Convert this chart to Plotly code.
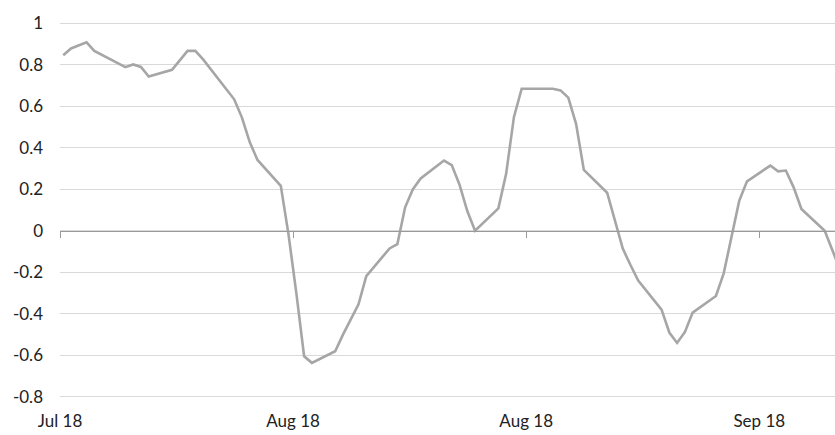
#!/usr/bin/env python3

import pandas as pd
import plotly.graph_objects as go

# business days (only where the line bends)
dates = ['2018-07-02', '2018-07-03', '2018-07-05', '2018-07-06', '2018-07-10',
         '2018-07-11', '2018-07-12', '2018-07-13', '2018-07-16', '2018-07-18',
         '2018-07-19', '2018-07-20', '2018-07-24', '2018-07-25', '2018-07-26',
         '2018-07-27', '2018-07-30', '2018-07-31', '2018-08-01', '2018-08-02',
         '2018-08-03', '2018-08-06', '2018-08-07', '2018-08-08', '2018-08-09',
         '2018-08-10', '2018-08-13', '2018-08-14', '2018-08-15', '2018-08-16',
         '2018-08-17', '2018-08-20', '2018-08-21', '2018-08-22', '2018-08-23',
         '2018-08-24', '2018-08-27', '2018-08-28', '2018-08-29', '2018-08-30',
         '2018-08-31', '2018-09-03', '2018-09-04', '2018-09-05', '2018-09-06',
         '2018-09-07', '2018-09-10', '2018-09-11', '2018-09-12', '2018-09-13',
         '2018-09-14', '2018-09-17', '2018-09-18', '2018-09-19', '2018-09-20',
         '2018-09-21', '2018-09-24', '2018-09-25', '2018-09-26', '2018-09-27',
         '2018-09-28', '2018-10-01', '2018-10-02', '2018-10-03', '2018-10-04',
         '2018-10-05', '2018-10-08', '2018-10-09', '2018-10-10']

corr = [0.845, 0.878, 0.907, 0.866, 0.788,
        0.801, 0.789, 0.743, 0.775, 0.866,
        0.866, 0.825, 0.633, 0.545, 0.427,
        0.341, 0.216, -0.02, -0.30, -0.604,
        -0.636, -0.58, -0.50, -0.427, -0.354,
        -0.218, -0.085, -0.064, 0.113, 0.20,
        0.252, 0.338, 0.316, 0.222, 0.095,
        0.0, 0.108, 0.274, 0.547, 0.684,
        0.684, 0.684, 0.676, 0.641, 0.515,
        0.293, 0.183, 0.048, -0.085, -0.165,
        -0.24, -0.38, -0.49, -0.54, -0.488,
        -0.394, -0.314, -0.205, -0.03, 0.145,
        0.238, 0.314, 0.286, 0.29, 0.209,
        0.105, 0.0, -0.10, -0.19]

ytick_vals = [1, 0.8, 0.6, 0.4, 0.2, 0, -0.2, -0.4, -0.6, -0.8]
ytick_text = ['1', '0.8', '0.6', '0.4', '0.2', '0', '-0.2', '-0.4', '-0.6', '-0.8']

first_tick = '2018-07-02'
tick_step_days = 30

x = pd.to_datetime(dates) + pd.Timedelta(hours=10)
xr = ['2018-07-02 00:00', '2018-10-09 17:45']
yr = [-0.81, 1.01]
zero_pos = (0 - yr[0]) / (yr[1] - yr[0])

font = dict(family='Lato, Open Sans, sans-serif', size=17, color='#222222')
dtick = tick_step_days * 86400000

fig = go.Figure()
fig.add_trace(go.Scatter(x=x, y=corr, mode='lines',
                         line=dict(color='#a6a6a6', width=2.6),
                         showlegend=False))
# helper trace so the zero axis (with its ticks) gets drawn
fig.add_trace(go.Scatter(x=x, y=corr, xaxis='x2', mode='lines',
                         line=dict(width=0), hoverinfo='skip',
                         showlegend=False))

fig.update_layout(
  width=835, height=435,
  margin=dict(l=60, r=0, t=21, b=36),
  paper_bgcolor='white', plot_bgcolor='white',
  font=font,
  xaxis=dict(range=xr, tick0=first_tick, dtick=dtick, tickformat='%b %y',
             showgrid=False, showline=False, zeroline=False, ticks='',
             ticklabelstandoff=10),
  xaxis2=dict(matches='x', overlaying='x', anchor='free', position=zero_pos,
              side='bottom', tick0=first_tick, dtick=dtick,
              showticklabels=False, showgrid=False, zeroline=False,
              showline=True, linecolor='#9a9a9a', linewidth=1,
              ticks='outside', ticklen=6, tickcolor='#9a9a9a', tickwidth=1),
  yaxis=dict(range=yr, tickvals=ytick_vals, ticktext=ytick_text,
             showgrid=True, gridcolor='#d9d9d9', gridwidth=1,
             zeroline=False, showline=False, ticks='',
             ticklabelstandoff=16),
)

fig.write_html("out.html", config={'displayModeBar': False},
               post_script="document.body.style.margin='0';")
